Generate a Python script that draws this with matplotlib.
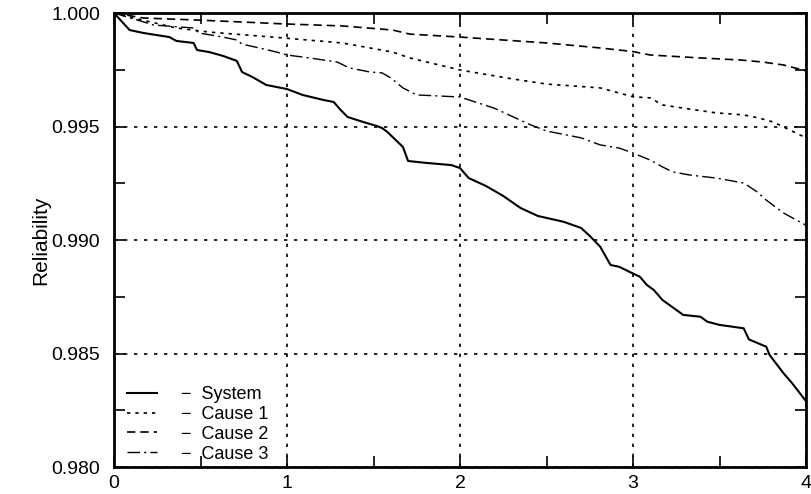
import matplotlib
matplotlib.use("Agg")
import matplotlib.pyplot as plt
from matplotlib.ticker import MultipleLocator, FormatStrFormatter

plt.rcParams['font.family'] = ['Liberation Sans', 'DejaVu Sans']

# Estimated reliability curves (time, reliability)
system_t = [0.0, 0.09, 0.17, 0.32, 0.36, 0.46, 0.48, 0.55, 0.63, 0.71, 0.74, 0.80,
            0.88, 0.94, 1.00, 1.09, 1.21, 1.27, 1.31, 1.35, 1.44, 1.52, 1.55, 1.58,
            1.67, 1.70, 1.80, 1.95, 2.00, 2.05, 2.15, 2.25, 2.35, 2.45, 2.60, 2.70,
            2.75, 2.81, 2.87, 2.92, 2.99, 3.04, 3.08, 3.12, 3.17, 3.21, 3.29, 3.39,
            3.43, 3.50, 3.64, 3.67, 3.77, 3.79, 3.87, 3.92, 4.00]
system_r = [1.0, 0.99925, 0.99912, 0.99894, 0.99877, 0.99868, 0.99837, 0.99828,
            0.99811, 0.99789, 0.99740, 0.99718, 0.99683, 0.99674, 0.99665, 0.99639,
            0.99617, 0.99608, 0.99573, 0.99542, 0.99520, 0.99502, 0.99493, 0.99476,
            0.99410, 0.99348, 0.99340, 0.99330, 0.99317, 0.99273, 0.99238, 0.99194,
            0.99141, 0.99106, 0.99080, 0.99053, 0.99018, 0.98971, 0.98890, 0.98882,
            0.98856, 0.98838, 0.98802, 0.98780, 0.98736, 0.98714, 0.98670, 0.98662,
            0.98640, 0.98626, 0.98611, 0.98562, 0.98530, 0.98493, 0.98413, 0.98369,
            0.98290]

cause1_t = [0.0, 0.09, 0.36, 0.55, 0.98, 1.32, 1.61, 1.71, 2.00, 2.30, 2.50, 2.81,
            3.00, 3.10, 3.17, 3.29, 3.48, 3.64, 3.73, 3.81, 3.87, 4.00]
cause1_r = [1.0, 0.99982, 0.99934, 0.99916, 0.99890, 0.99868, 0.99828, 0.99802,
            0.99749, 0.99710, 0.99687, 0.99670, 0.99631, 0.99626, 0.99595, 0.99581,
            0.99560, 0.99551, 0.99537, 0.99520, 0.99498, 0.99450]

cause2_t = [0.0, 0.17, 0.48, 0.75, 0.98, 1.32, 1.61, 1.71, 2.00, 2.50, 2.81, 3.00,
            3.10, 3.39, 3.62, 3.75, 3.87, 4.00]
cause2_r = [1.0, 0.99978, 0.99969, 0.99960, 0.99952, 0.99943, 0.99925, 0.99907,
            0.99894, 0.99868, 0.99846, 0.99830, 0.99815, 0.99802, 0.99793, 0.99784,
            0.99771, 0.99745]

cause3_t = [0.0, 0.23, 0.46, 0.49, 0.63, 0.71, 0.74, 0.84, 0.94, 1.00, 1.13, 1.29,
            1.36, 1.48, 1.55, 1.60, 1.67, 1.75, 2.00, 2.20, 2.40, 2.50, 2.70, 2.81,
            2.92, 3.00, 3.10, 3.17, 3.23, 3.33, 3.48, 3.64, 3.72, 3.77, 3.87, 4.00]
cause3_r = [1.0, 0.99947, 0.99934, 0.99912, 0.99894, 0.99881, 0.99863, 0.99846,
            0.99828, 0.99815, 0.99802, 0.99784, 0.99758, 0.99740, 0.99736, 0.99714,
            0.99670, 0.99639, 0.99630, 0.99580, 0.99510, 0.99480, 0.99450, 0.99419,
            0.99405, 0.99383, 0.99352, 0.99322, 0.99300, 0.99286, 0.99273, 0.99251,
            0.99211, 0.99176, 0.99119, 0.99065]

labels = ['System', 'Cause 1', 'Cause 2', 'Cause 3']
x_ticks = [0, 1, 2, 3, 4]
y_ticks = [0.980, 0.985, 0.990, 0.995, 1.000]

fig = plt.figure(figsize=(8.11, 4.94), dpi=100)
ax = fig.add_axes([114 / 811, 1 - 467 / 494, 692 / 811, 454 / 494])

ax.plot(system_t, system_r, color='black', lw=1.5, ls='-', label='\u2212  ' + labels[0])
ax.plot(cause1_t, cause1_r, color='black', lw=1.2, ls=(0, (2.0, 3.0)), label='\u2212  ' + labels[1])
ax.plot(cause2_t, cause2_r, color='black', lw=1.2, ls=(0, (5.0, 3.0)), label='\u2212  ' + labels[2])
ax.plot(cause3_t, cause3_r, color='black', lw=1.0, ls=(0, (9.0, 3.0, 1.5, 3.0)), label='\u2212  ' + labels[3])

ax.set_xlim(0, 4)
ax.set_ylim(0.980, 1.000)
ax.set_xticks(x_ticks)
ax.set_yticks(y_ticks)
ax.yaxis.set_major_formatter(FormatStrFormatter('%.3f'))
ax.xaxis.set_minor_locator(MultipleLocator(0.5))
ax.yaxis.set_minor_locator(MultipleLocator(0.0025))
ax.tick_params(which='both', direction='in', top=True, right=True, width=1.2,
               labelsize=14, color='black')
ax.tick_params(which='major', length=8)
ax.tick_params(which='minor', length=8)
ax.tick_params(axis='y', which='major', pad=10)
ax.tick_params(axis='x', which='major', pad=6)

ax.grid(True, which='major', color='black', ls=(0, (2.0, 4.0)), lw=1.2)
for s in ax.spines.values():
    s.set_linewidth(2.0)

ax.set_ylabel('Reliability', fontsize=15, labelpad=1)

ax.legend(loc='lower left', bbox_to_anchor=(0.008, -0.006), frameon=False,
          fontsize=13, handlelength=1.7, handletextpad=1.3, labelspacing=0.15,
          borderaxespad=0.1, borderpad=0.3)

fig.savefig('out.png', dpi=100)
